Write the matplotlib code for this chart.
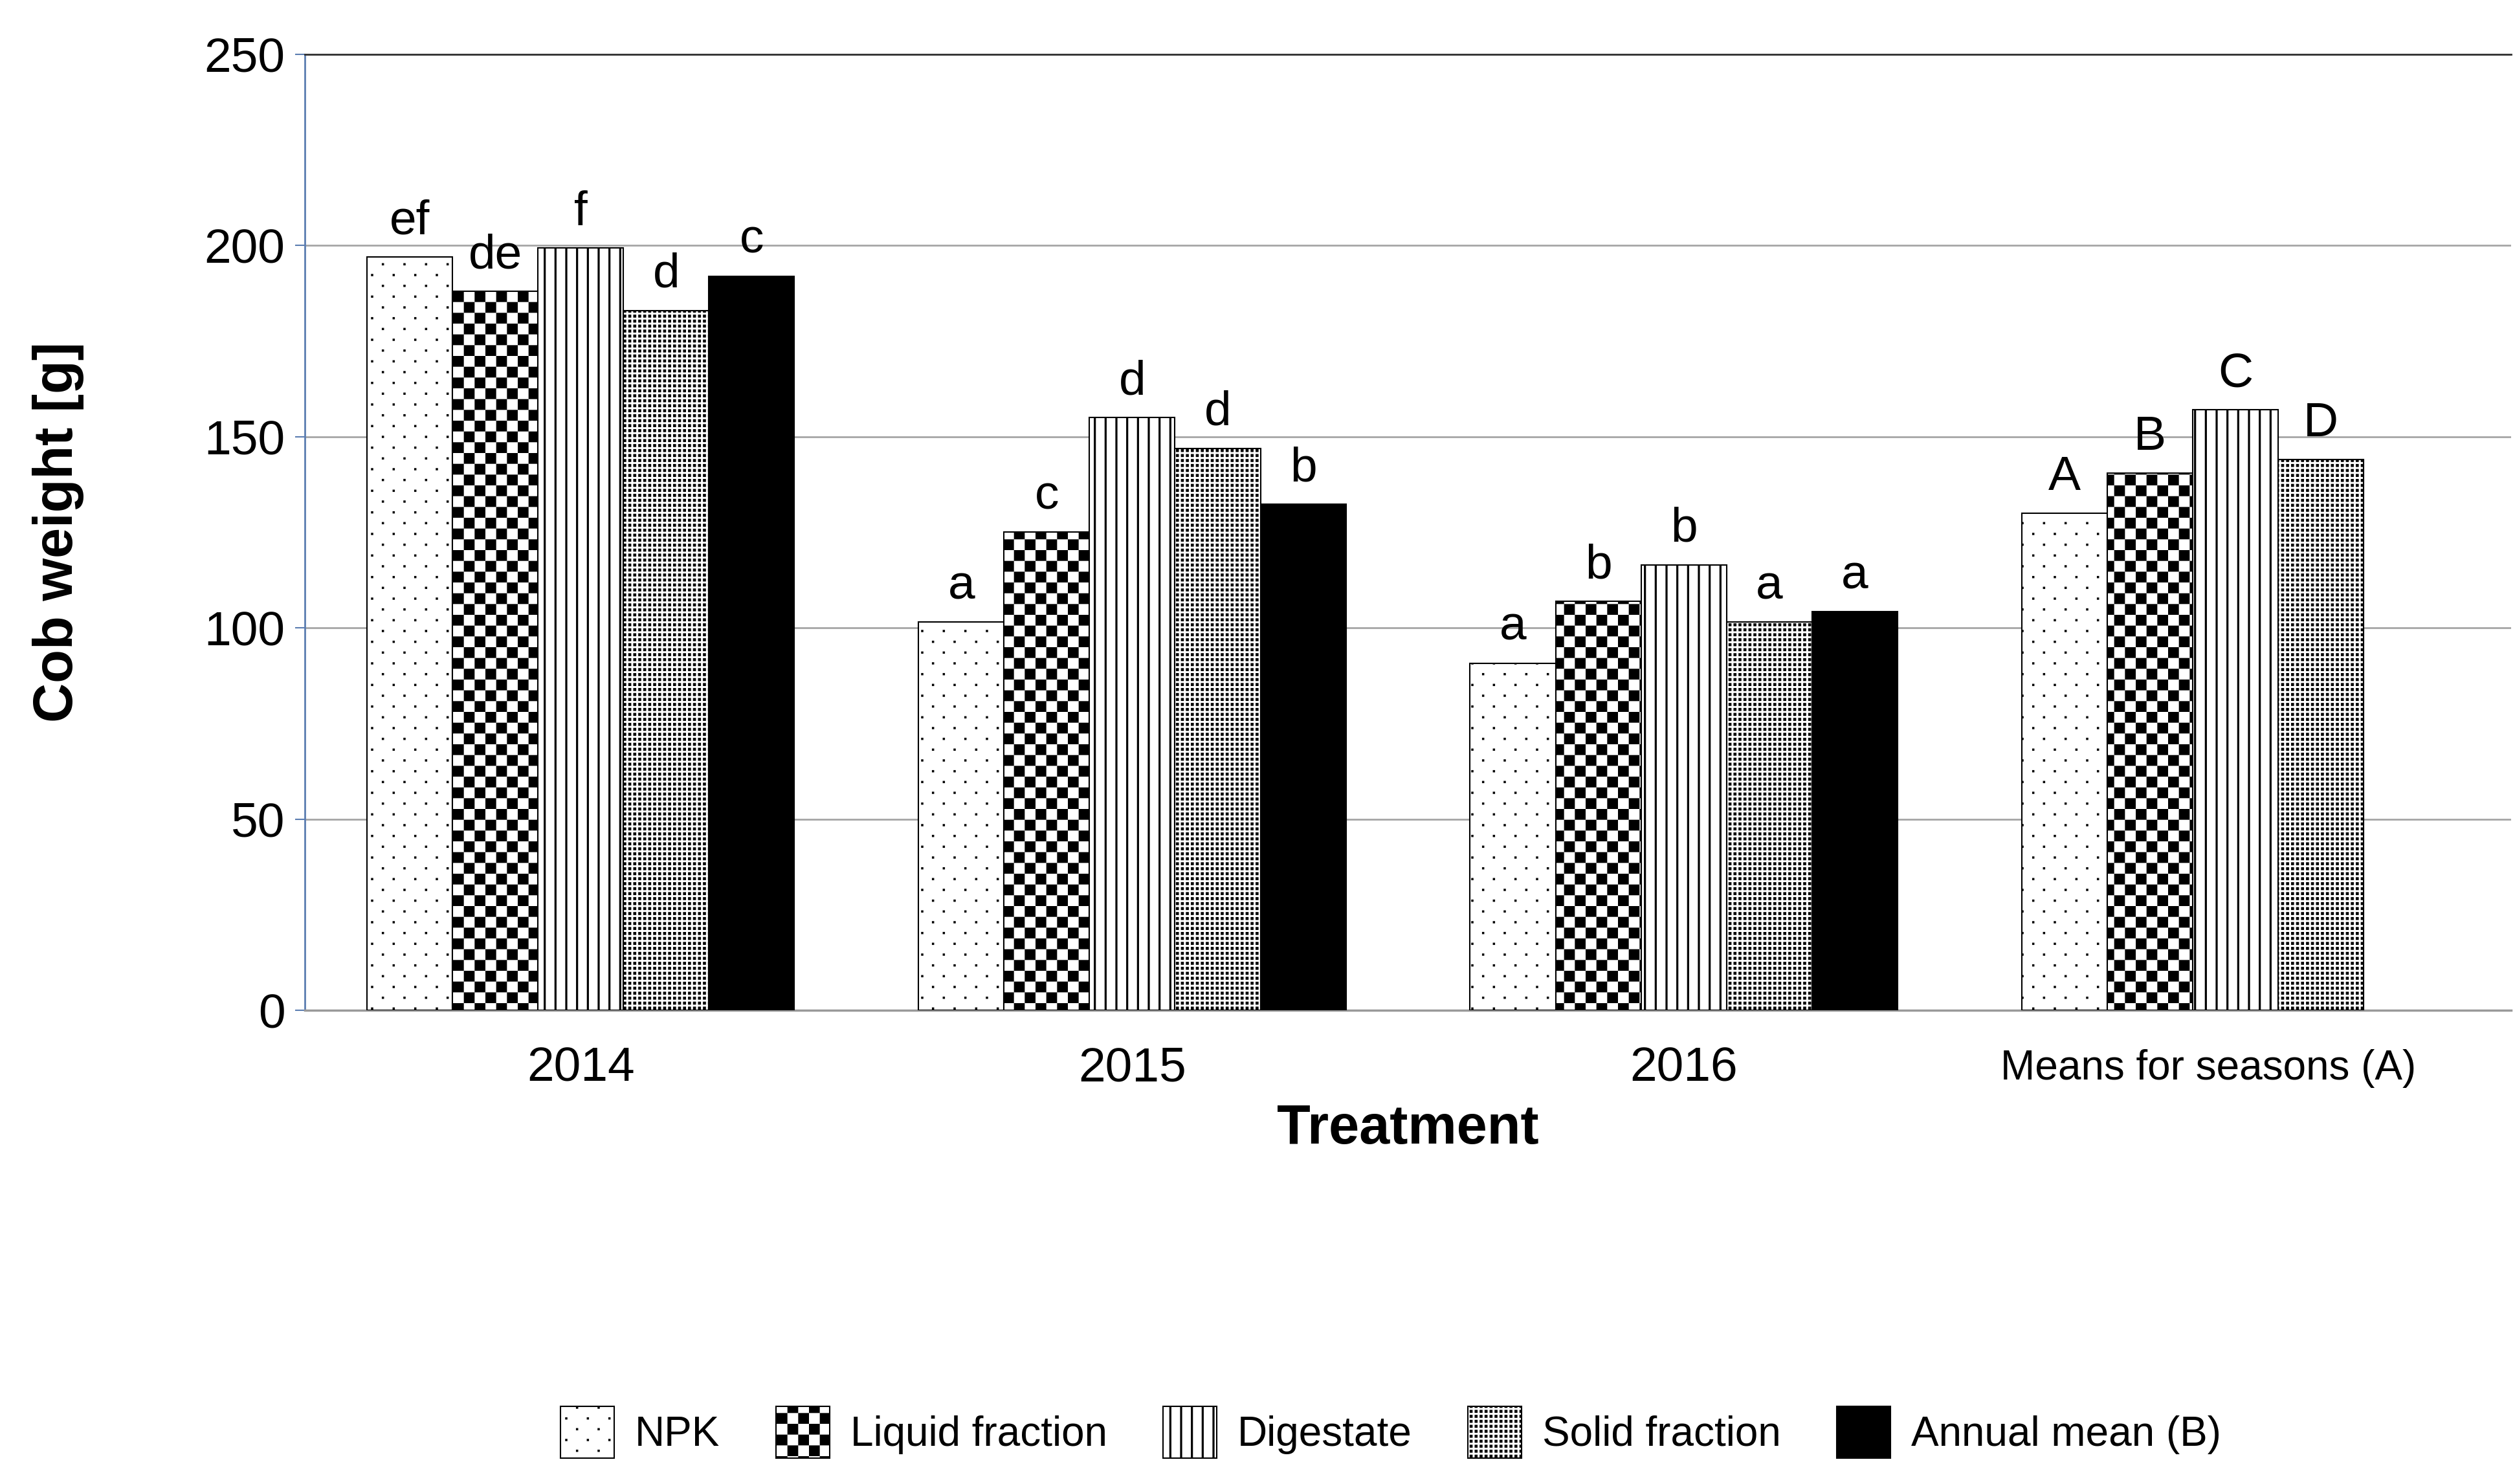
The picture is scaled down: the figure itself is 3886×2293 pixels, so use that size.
import numpy as np
import matplotlib
matplotlib.use('Agg')
from matplotlib import pyplot as plt
from matplotlib import hatch as mhatch
from matplotlib.path import Path
from matplotlib.transforms import ScaledTranslation

plt.rcParams['font.family'] = ['Liberation Sans', 'DejaVu Sans']
plt.rcParams['hatch.linewidth'] = 0.0

# data
groups = ['2014', '2015', '2016', 'Means for seasons (A)']
series = ['NPK', 'Liquid fraction', 'Digestate', 'Solid fraction', 'Annual mean (B)']
npk = [197, 101.5, 90.8, 130]
liquid = [188, 125, 107, 140.5]
digestate = [199.3, 155, 116.5, 157]
solid = [183, 147, 101.5, 144]
annual = [192, 132.3, 104.2, np.nan]
letters_npk = ['ef', 'a', 'a', 'A']
letters_liquid = ['de', 'c', 'b', 'B']
letters_digestate = ['f', 'd', 'b', 'C']
letters_solid = ['d', 'd', 'a', 'D']
letters_annual = ['c', 'b', 'a', '']


# fill patterns as small filled squares inside one hatch tile
class RectHatch(mhatch.HatchPatternBase):
    def __init__(self, hatch, density):
        self.rects = []
        if 'O' in hatch:          # checkerboard
            n = 6
            s = 1.0 / n
            for i in range(n):
                for j in range(n):
                    if (i + j) % 2 == 0:
                        self.rects.append((i * s, j * s, s, s))
        if '.' in hatch:          # sparse staggered dots
            n = 6
            s = 1.0 / n
            d = 0.035
            for i in range(n):
                for j in range(n):
                    if (i + j) % 2 == 0:
                        self.rects.append((i * s + s / 2 - d / 2, j * s + s / 2 - d / 2, d, d))
        if 'o' in hatch:          # fine dot grid
            n = 13
            s = 1.0 / n
            for i in range(n):
                for j in range(n):
                    self.rects.append((i * s + 0.2 * s, j * s + 0.2 * s, 0.6 * s, 0.6 * s))
        if '|' in hatch:          # vertical lines
            n = 6
            s = 1.0 / n
            w = 0.032
            for i in range(n):
                self.rects.append((i * s + s / 2 - w / 2, 0.0, w, 1.0))
        self.num_vertices = 5 * len(self.rects)

    def set_vertices_and_codes(self, vertices, codes):
        for k, (x, y, w, h) in enumerate(self.rects):
            vertices[5 * k:5 * k + 5] = [(x, y), (x + w, y), (x + w, y + h), (x, y + h), (x, y)]
            codes[5 * k:5 * k + 5] = [Path.MOVETO, Path.LINETO, Path.LINETO, Path.LINETO, Path.CLOSEPOLY]


mhatch._hatch_types[:] = [RectHatch]

fig = plt.figure(figsize=(38.86, 22.93), dpi=100)
ax = fig.add_axes([0.1212, 0.3192, 0.8773, 0.6442])

x = np.arange(len(groups))
w = 0.155
values = [npk, liquid, digestate, solid, annual]
letters = [letters_npk, letters_liquid, letters_digestate, letters_solid, letters_annual]
hatches = ['.', 'O', '|', 'o', None]
faces = ['white', 'white', 'white', 'white', 'black']

handles = []
for i in range(5):
    bars = ax.bar(x + (i - 2) * w, values[i], w, color=faces[i], edgecolor='black',
                  linewidth=1.5, hatch=hatches[i], label=series[i], zorder=3)
    handles.append(bars)
    for j in range(len(groups)):
        if letters[i][j]:
            ax.annotate(letters[i][j], (x[j] + (i - 2) * w, values[i][j]),
                        xytext=(0, 15), textcoords='offset points',
                        ha='center', va='bottom', fontsize=54)

ax.set_xlim(-0.5, 3.5)
ax.set_ylim(0, 250)
ax.set_yticks([0, 50, 100, 150, 200, 250])
ax.set_xticks(x)
ax.set_xticklabels(groups)

ax.yaxis.grid(True, color='#a6a6a6', linewidth=2, zorder=0)
ax.set_axisbelow(True)
ax.spines['right'].set_visible(False)
ax.spines['top'].set_color('#303030')
ax.spines['top'].set_linewidth(2)
ax.spines['left'].set_color('#5b7db1')
ax.spines['left'].set_linewidth(2)
ax.spines['bottom'].set_color('#999999')
ax.spines['bottom'].set_linewidth(2.5)

ax.tick_params(axis='y', color='#5b7db1', labelcolor='black', length=11, width=1.5,
               pad=11, labelsize=54)
ax.tick_params(axis='x', length=0, pad=40, labelsize=54)
# the last group label is a bit smaller and sits a little left
lab = ax.get_xticklabels()[3]
lab.set_fontsize(46)
lab.set_transform(lab.get_transform() + ScaledTranslation(-0.42, -0.04, fig.dpi_scale_trans))

ax.set_xlabel('Treatment', fontsize=61, fontweight='bold', labelpad=14)
ax.set_ylabel('Cob weight [g]', fontsize=61, fontweight='bold')
ax.yaxis.set_label_coords(-0.1, 0.5)

fig.legend(handles, series, loc='center', bbox_to_anchor=(0.553, 0.035), ncol=5,
           frameon=False, fontsize=46, handlelength=1.3, handleheight=1.55,
           handletextpad=0.5, columnspacing=1.35)

plt.savefig('out.png', dpi=100)
